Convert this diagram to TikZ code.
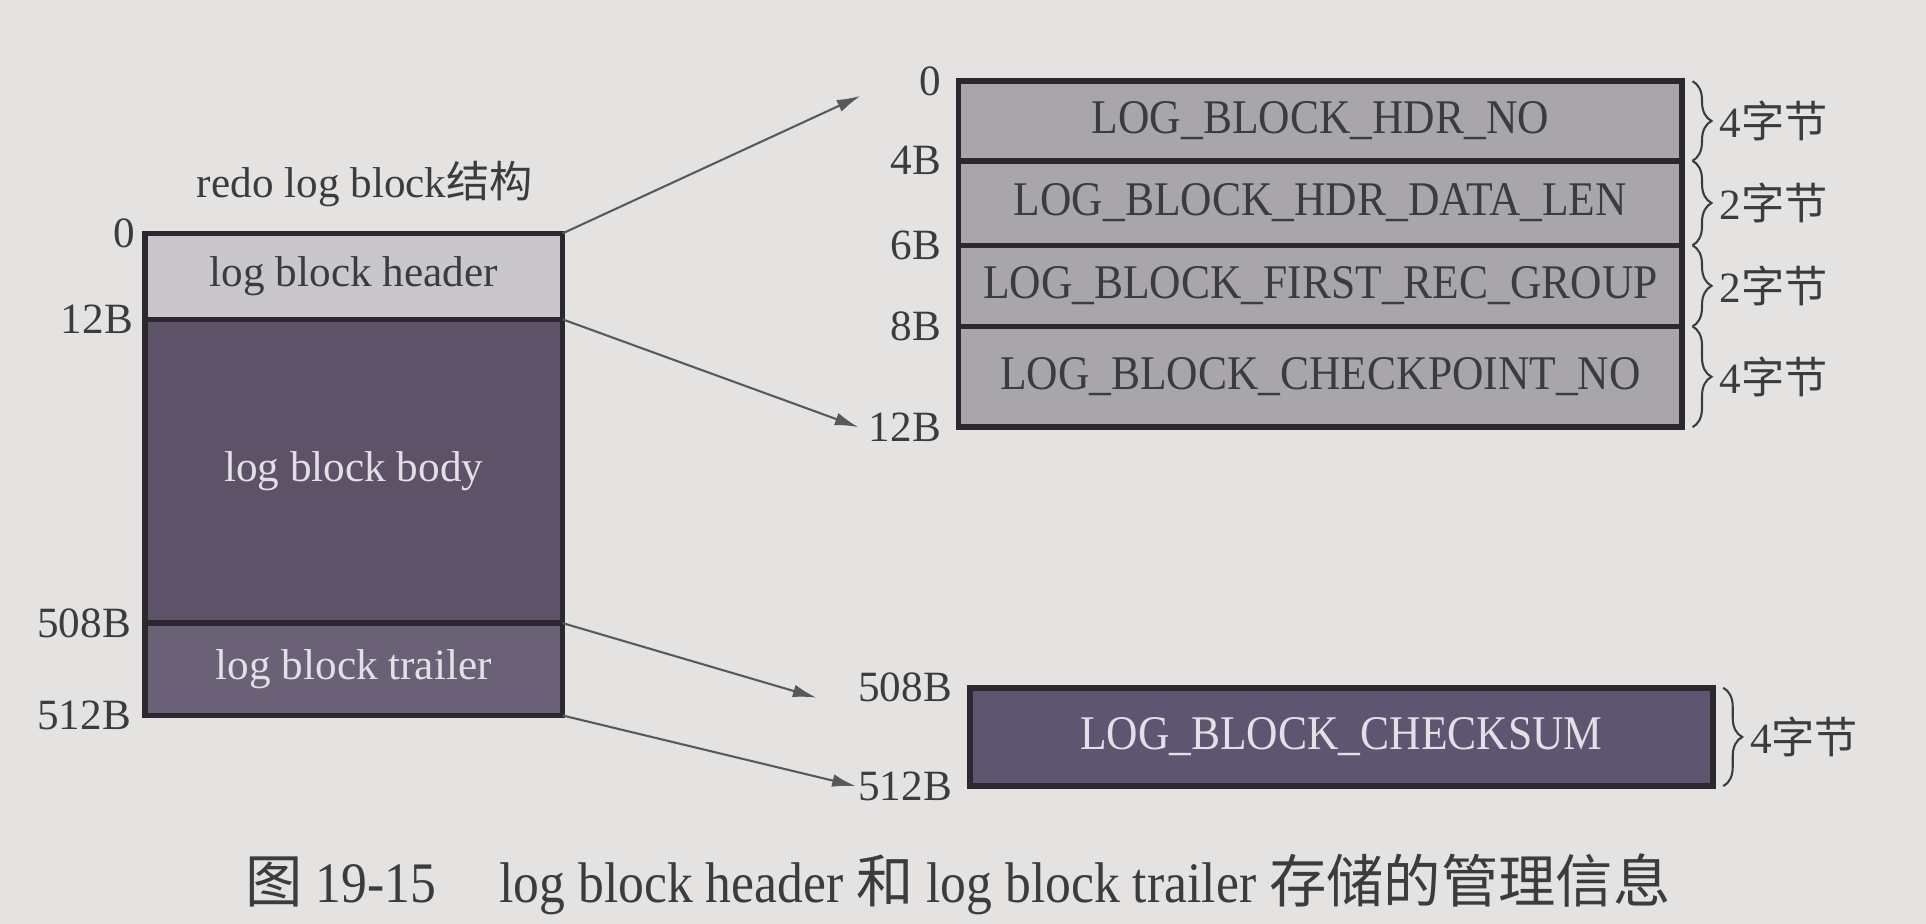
\documentclass[tikz,border=0pt]{standalone}
\usepackage{fontspec}
\setmainfont{Liberation Serif}
\newfontfamily\cjk{Noto Sans CJK SC}
\newfontfamily\narrowfont[FakeStretch=0.9]{Liberation Serif}
\usetikzlibrary{arrows.meta,positioning,decorations.pathreplacing}
\definecolor{paper}{HTML}{E4E3E1}
\definecolor{ink}{HTML}{2B2830}
\definecolor{labelgray}{HTML}{3C3B3E}
\definecolor{hdrgray}{HTML}{C9C7CB}
\definecolor{bodypurple}{HTML}{5D5268}
\definecolor{trailpurple}{HTML}{6B6176}
\definecolor{fieldgray}{HTML}{A9A6AB}
\definecolor{sumpurple}{HTML}{5E5670}
\definecolor{lighttext}{HTML}{E2E0E6}
\begin{document}
\begin{tikzpicture}[
  x=.0125cm,y=-.0125cm,
  font=\fontsize{12.5}{14}\selectfont,
  part/.style={draw=ink,line width=1.6pt,outer sep=0pt,inner sep=0pt,
               minimum width=4.25cm,text=labelgray},
  field/.style={draw=ink,line width=1.6pt,outer sep=0pt,inner sep=0pt,
                minimum width=7.36cm,fill=fieldgray,text=labelgray,
                font=\narrowfont\fontsize{14}{16}\selectfont},
  offset/.style={anchor=east,text=labelgray,inner sep=1pt},
  size/.style={decorate,decoration={brace,amplitude=5.5pt},draw=labelgray,line width=.6pt},
  sizelabel/.style={anchor=west,text=labelgray,inner sep=1pt},
  arrow/.style={-{Latex[length=2.4mm,width=1.3mm]},line width=.6pt,draw=labelgray!85}
]
\useasboundingbox (0,0) rectangle (1568,752);
\fill[paper] (0,0) rectangle (1568,752);

\node[text=labelgray] (title) at (297,150) {redo log block{\cjk 结构}};
\node[part,fill=hdrgray,minimum height=.875cm] (header) at (288,225) {log block header};
\node[part,fill=bodypurple,text=lighttext,minimum height=3.09cm,below=0pt of header] (body)
  {log block body};
\node[part,fill=trailpurple,text=lighttext,minimum height=.94cm,below=0pt of body] (trailer)
  {log block trailer};
\node[offset] (l0) at ([xshift=-.06cm]header.north west) {0};
\node[offset] (l12) at ([xshift=-.08cm]header.south west) {12B};
\node[offset] (l508) at ([xshift=-.1cm]trailer.north west) {508B};
\node[offset] (l512) at ([xshift=-.1cm]trailer.south west) {512B};

\node[field,minimum height=.81cm] (hdrno) at (1075,98.5) {LOG\_BLOCK\_HDR\_NO};
\node[field,minimum height=.86cm,below=0pt of hdrno] (datalen) {LOG\_BLOCK\_HDR\_DATA\_LEN};
\node[field,minimum height=.825cm,below=0pt of datalen] (recgroup) {LOG\_BLOCK\_FIRST\_REC\_GROUP};
\node[field,minimum height=1.025cm,below=0pt of recgroup] (ckptno) {LOG\_BLOCK\_CHECKPOINT\_NO};
\node[offset] (r0) at ([xshift=-.14cm]hdrno.north west) {0};
\node[offset] (r4) at ([xshift=-.14cm]datalen.north west) {4B};
\node[offset] (r6) at ([xshift=-.14cm]recgroup.north west) {6B};
\node[offset] (r8) at ([xshift=-.14cm]ckptno.north west) {8B};
\node[offset] (r12) at ([xshift=-.14cm]ckptno.south west) {12B};

\node[field,fill=sumpurple,text=lighttext,minimum width=7.56cm,minimum height=1cm]
  (checksum) at (1092,600) {LOG\_BLOCK\_CHECKSUM};
\node[offset] (s508) at ([xshift=-.14cm]checksum.north west) {508B};
\node[offset] (s512) at ([xshift=-.14cm]checksum.south west) {512B};

\draw[size] ([xshift=3pt]hdrno.north east) -- ([xshift=3pt]hdrno.south east)
  node[midway,sizelabel,xshift=6.5pt] (z1) {4{\cjk 字节}};
\draw[size] ([xshift=3pt]datalen.north east) -- ([xshift=3pt]datalen.south east)
  node[midway,sizelabel,xshift=6.5pt] (z2) {2{\cjk 字节}};
\draw[size] ([xshift=3pt]recgroup.north east) -- ([xshift=3pt]recgroup.south east)
  node[midway,sizelabel,xshift=6.5pt] (z3) {2{\cjk 字节}};
\draw[size] ([xshift=3pt]ckptno.north east) -- ([xshift=3pt]ckptno.south east)
  node[midway,sizelabel,xshift=6.5pt] (z4) {4{\cjk 字节}};
\draw[size] ([xshift=3pt]checksum.north east) -- ([xshift=3pt]checksum.south east)
  node[midway,sizelabel,xshift=6.5pt] (z5) {4{\cjk 字节}};

\coordinate (hdrin) at ([xshift=-1cm,yshift=-.15cm]hdrno.north west);
\coordinate (hdrout) at ([xshift=-1.02cm]ckptno.south west);
\coordinate (trlin) at ([xshift=-1.56cm,yshift=-.1cm]checksum.north west);
\coordinate (trlout) at ([xshift=-1.16cm]checksum.south west);
\draw[arrow] (header.north east) -- (hdrin);
\draw[arrow] (header.south east) -- (hdrout);
\draw[arrow] (trailer.north east) -- (trlin);
\draw[arrow] (trailer.south east) -- (trlout);

\node[text=labelgray,font=\narrowfont\fontsize{16.6}{19}\selectfont] (caption) at (780,720)
  {{\cjk 图} 19-15\hspace{1.1em}log block header {\cjk 和} log block trailer {\cjk 存储的管理信息}};
\end{tikzpicture}
\end{document}
